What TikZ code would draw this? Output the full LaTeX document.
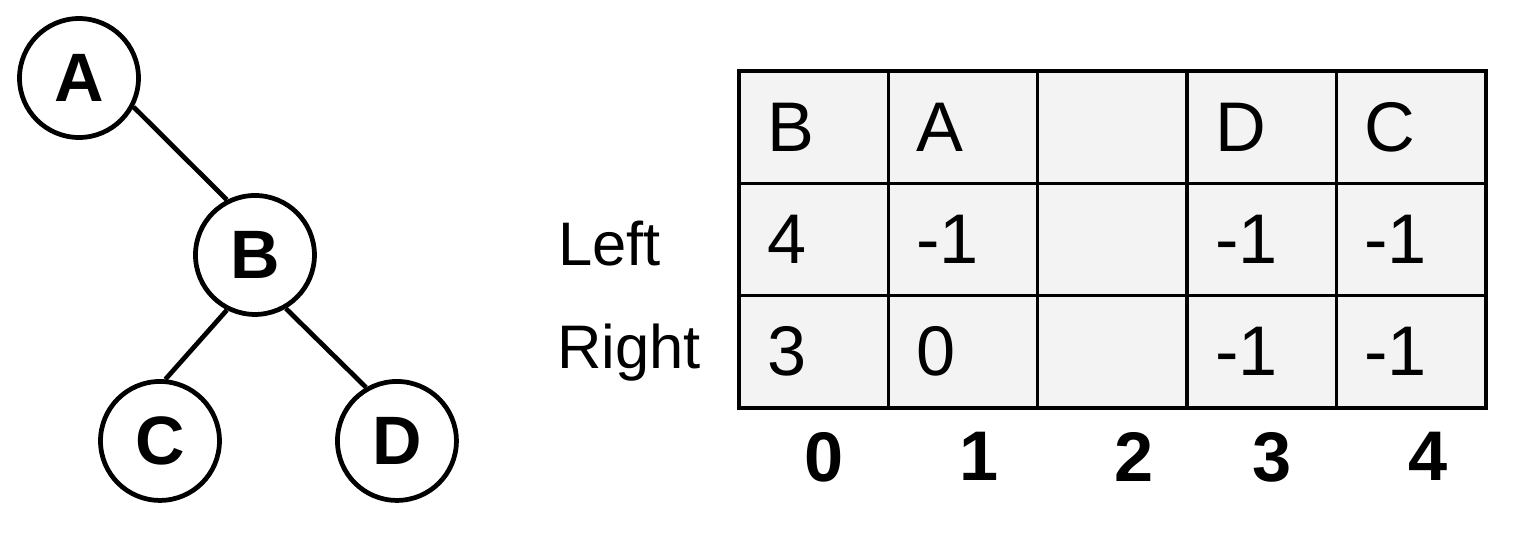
\documentclass[tikz,border=0pt]{standalone}
\usepackage{fontspec}
\setmainfont{Liberation Sans}
\usetikzlibrary{positioning}
\definecolor{cellgray}{RGB}{243,243,243}

\begin{document}
\begin{tikzpicture}[x=0.02cm,y=0.02cm,node distance=0pt]

      \tikzstyle{treenode}=[circle,draw,line width=2.7pt,
        minimum size=2.38cm,inner sep=0pt,
        font=\fontsize{39}{44}\selectfont\bfseries]
      \tikzstyle{cell}=[rectangle,draw,line width=1.9pt,fill=cellgray,
        minimum width=2.988cm,minimum height=2.246cm,outer sep=0pt,
        inner xsep=0.56cm,text width=1.868cm,align=left,
        font=\fontsize{40}{48}\selectfont]
      \tikzstyle{rowlabel}=[anchor=base west,inner sep=0pt,
        font=\fontsize{35}{42}\selectfont]
      \tikzstyle{index}=[font=\fontsize{40}{48}\selectfont\bfseries,
        yshift=-0.36cm]
      \tikzstyle{edge}=[line width=2.7pt]

      \useasboundingbox (0,0) rectangle (1534,539);

      % the tree
      \node(NodeA)[treenode] at (79,461){A};
      \node(NodeB)[treenode,on grid,
        below right=3.54cm and 3.52cm of NodeA]{B};
      \node(NodeC)[treenode,on grid,
        below left=3.72cm and 1.9cm of NodeB]{C};
      \node(NodeD)[treenode,on grid,
        below right=3.72cm and 2.84cm of NodeB]{D};

      \draw [edge] (NodeA.-28)--(NodeB.117);
      \draw [edge] (NodeB.243)--(NodeC.85);
      \draw [edge] (NodeB.-60)--(NodeD.120);

      % the array
      \node(Key0)[cell] at (813.7,411.8){B};
      \node(Key1)[cell,right=of Key0]{A};
      \node(Key2)[cell,right=of Key1]{};
      \node(Key3)[cell,right=of Key2]{D};
      \node(Key4)[cell,right=of Key3]{C};

      \node(Left0)[cell,below=of Key0]{4};
      \node(Left1)[cell,right=of Left0]{-1};
      \node(Left2)[cell,right=of Left1]{};
      \node(Left3)[cell,right=of Left2]{-1};
      \node(Left4)[cell,right=of Left3]{-1};

      \node(Right0)[cell,below=of Left0]{3};
      \node(Right1)[cell,right=of Right0]{0};
      \node(Right2)[cell,right=of Right1]{};
      \node(Right3)[cell,right=of Right2]{-1};
      \node(Right4)[cell,right=of Right3]{-1};

      \node(LeftLabel)[rowlabel] at (558,274){Left};
      \node(RightLabel)[rowlabel] at (557,171){Right};

      % indices
      \node(Idx0)[index,below=of Right0,xshift=0.2cm]{0};
      \node(Idx1)[index,below=of Right1,xshift=0.32cm]{1};
      \node(Idx2)[index,below=of Right2,xshift=0.44cm]{2};
      \node(Idx3)[index,below=of Right3,xshift=0.2cm]{3};
      \node(Idx4)[index,below=of Right4,xshift=0.34cm]{4};

    \end{tikzpicture}
\end{document}
